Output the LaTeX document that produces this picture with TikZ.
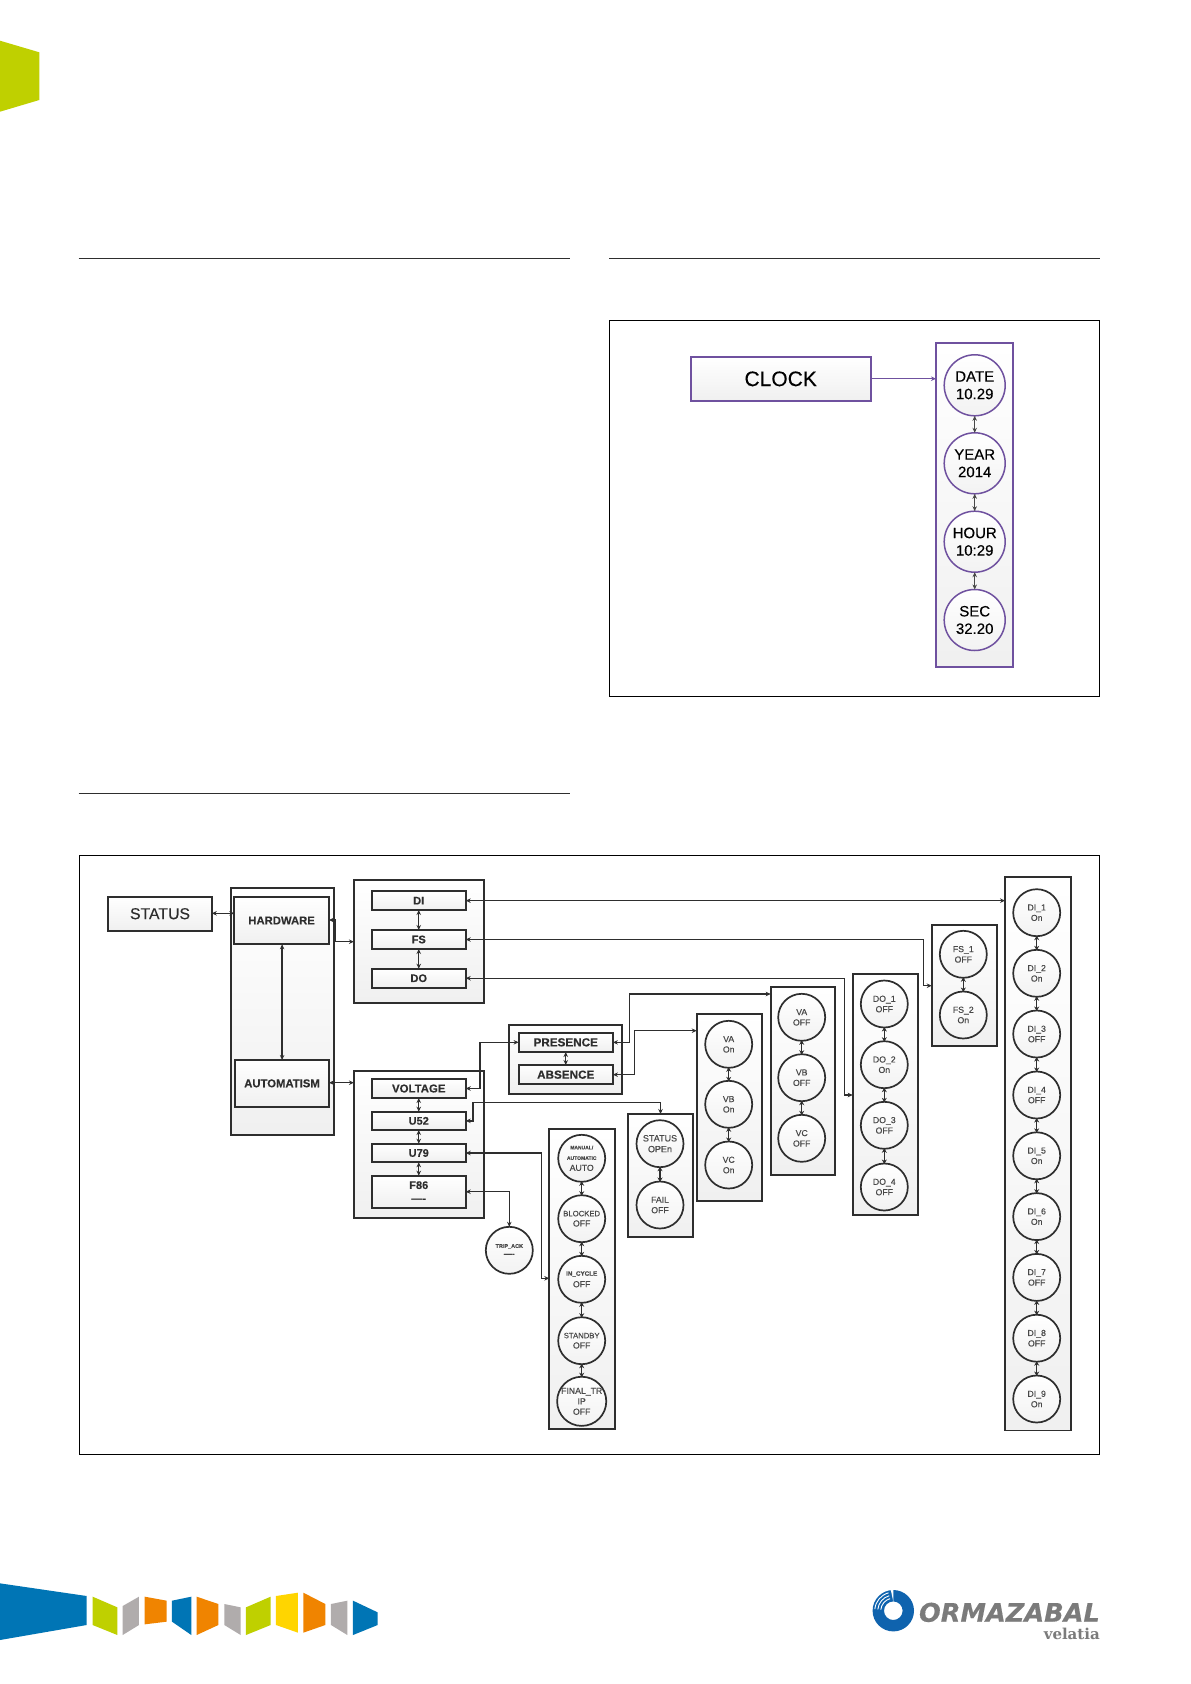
\documentclass[tikz,border=0pt]{standalone}
\usepackage{fontspec}
\setmainfont{Liberation Sans}[FakeBold=0.25]
\newfontfamily\logosans{DejaVu Sans}[FakeBold=0.4]
\newfontfamily\logoserif{DejaVu Serif}
\usetikzlibrary{arrows.meta}
\definecolor{ink}{HTML}{2E2E2E}
\definecolor{soft}{HTML}{484848}
\definecolor{purp}{HTML}{6F519F}
\definecolor{lime}{HTML}{BFD000}
\definecolor{ablue}{HTML}{0075B5}
\definecolor{aorange}{HTML}{F08400}
\definecolor{agray}{HTML}{B0ACAC}
\definecolor{ayellow}{HTML}{FFD500}
\definecolor{logogray}{HTML}{7B7B7B}
\definecolor{rblue}{HTML}{0F63AE}
\newcommand{\fsz}[1]{\fontsize{#1}{\fpeval{#1*1.2}}\selectfont}
\tikzset{
  shaded box/.style={rectangle,draw=ink,line width=1.8pt,top color=white,bottom color=black!6,inner sep=0pt,outer sep=0pt,align=center,text=ink},
  purplebox/.style={shaded box,draw=purp,line width=1.6pt,text=black},
  roundel/.style={circle,draw=ink,line width=1.7pt,top color=white,bottom color=black!5,inner sep=0pt,outer sep=0pt,minimum size=47pt,align=center,text=soft},
  purpleround/.style={roundel,draw=purp,line width=1.5pt,minimum size=61pt,text=black,font=\fsz{15}},
  wire/.style={draw=ink,line width=1.3pt,{Stealth[length=5pt,width=4.5pt]}-{Stealth[length=5pt,width=4.5pt]}},
  link/.style={draw=ink,line width=1.5pt,{Stealth[length=4.5pt,width=5pt]}-{Stealth[length=4.5pt,width=5pt]},shorten >=-.5pt,shorten <=-.5pt},
  rulebar/.style={draw=ink,line width=.9pt},
  framebox/.style={draw=black,line width=.9pt,fill=white},
}
% \mybox[style]{name}{x1}{y1}{x2}{y2}{text}
\newcommand{\mybox}[7][]{%
  \pgfmathsetmacro{\bcx}{(#3+#5)/2}\pgfmathsetmacro{\bcy}{(#4+#6)/2}%
  \pgfmathsetmacro{\bw}{#5-#3}\pgfmathsetmacro{\bh}{#6-#4}%
  \node[shaded box,#1,minimum width=\bw pt,minimum height=\bh pt] (#2) at (\bcx,\bcy) {#7};}
\begin{document}
\begin{tikzpicture}[x=1pt,y=-1pt]
\useasboundingbox (0,0) rectangle (1191,1684);
\fill[white] (0,0) rectangle (1191,1684);
% page furniture
\fill[lime] (0,40.7) -- (39.3,52.3) -- (39.3,100) -- (0,111.7) -- cycle;
\draw[rulebar] (78.5,258) -- (569.5,258);
\draw[rulebar] (609,258) -- (1100,258);
\draw[rulebar] (78.5,793.7) -- (569.5,793.7);
\draw[framebox] (609,320.5) rectangle (1099.5,696.7);
\draw[framebox] (79,855.7) rectangle (1099.5,1454.7);

% CLOCK
\mybox[purplebox,font=\fsz{21}]{clock}{690.7}{357}{870.7}{400.7}{CLOCK}
\mybox[purplebox]{clockgrp}{936}{342.7}{1013}{667}{}
\node[purpleround] (date) at (974.7,385.3) {DATE\\[-.5pt]10.29};
\node[purpleround] (year) at (974.7,463.3) {YEAR\\[-.5pt]2014};
\node[purpleround] (hour) at (974.7,541.7) {HOUR\\[-.5pt]10:29};
\node[purpleround] (sec)  at (974.7,620)   {SEC\\[-.5pt]32.20};
\draw[draw=purp,line width=1.5pt,-{Stealth[length=5pt,width=4.5pt]}] (clock.east |- 0,378.7) -- (clockgrp.west |- 0,378.7);
\foreach \a/\b in {date/year,year/hour,hour/sec}
  \draw[wire,draw=soft,line width=1.1pt] (\a) -- (\b);

% STATUS tree, left part
\mybox[font=\fsz{15.8}]{status}{108.2}{896.7}{211.8}{930.7}{STATUS}
\mybox{hwgrp}{230.7}{887.7}{334.3}{1135}{}
\mybox[font=\fsz{11.3}\bfseries]{hardware}{234.3}{896.7}{328.9}{944.3}{HARDWARE}
\mybox[font=\fsz{11.3}\bfseries]{autom}{235}{1060}{329}{1106.7}{AUTOMATISM}
\mybox{digrp}{353.9}{880}{483.6}{1003.3}{}
\mybox[font=\fsz{11}\bfseries]{di}{371.8}{891.3}{465.7}{910}{DI}
\mybox[font=\fsz{11}\bfseries]{fs}{371.8}{930}{465.7}{949}{FS}
\mybox[font=\fsz{11}\bfseries]{do}{371.8}{968.7}{465.7}{987.7}{DO}
\mybox{volgrp}{353.9}{1070.7}{483.6}{1217.7}{}
\mybox[font=\fsz{11.4}\bfseries]{voltage}{371.8}{1079}{465.7}{1098}{VOLTAGE}
\mybox[font=\fsz{11}\bfseries]{u52}{371.8}{1111.7}{465.7}{1130}{U52}
\mybox[font=\fsz{11}\bfseries]{u79}{371.8}{1143.7}{465.7}{1162.3}{U79}
\mybox[font=\fsz{11}\bfseries]{f86}{371.8}{1175.7}{465.7}{1207.7}{F86\\----}
\mybox{presgrp}{509.3}{1025.3}{621.8}{1094.3}{}
\mybox[font=\fsz{11.7}\bfseries]{presence}{518.6}{1032.7}{612.9}{1052}{PRESENCE}
\mybox[font=\fsz{11.7}\bfseries]{absence}{518.6}{1065}{612.9}{1084.3}{ABSENCE}
\node[roundel,font=\fsz{5.5}\bfseries] (trip) at (509.3,1250.3) {TRIP\_ACK\\[2pt]{\fsz{8}----}};

% columns of circles
\mybox{mangrp}{549.3}{1129}{615}{1429}{}
\node[roundel] (man) at (581.7,1158.3) {{\fsz{5}\bfseries MANUAL/}\\[-1.5pt]{\fsz{5}\bfseries AUTOMATIC}\\[-1pt]{\fsz{8.7}AUTO}};
\node[roundel,font=\fsz{7.7}] (blocked) at (581.7,1218.7) {BLOCKED\\[1pt]{\fsz{8.7}OFF}};
\node[roundel] (incyc) at (581.7,1279.3) {{\fsz{6.3}\bfseries IN\_CYCLE}\\[-.5pt]{\fsz{8.7}OFF}};
\node[roundel,font=\fsz{7.7}] (standby) at (581.7,1340.7) {STANDBY\\[1pt]{\fsz{8.7}OFF}};
\node[roundel,font=\fsz{8.7}] (final) at (581.7,1401.3) {FINAL\_TR\\IP\\OFF};
\foreach \a/\b in {man/blocked,blocked/incyc,incyc/standby,standby/final}
  \draw[link] (\a) -- (\b);

\mybox{stgrp}{628.3}{1114}{692.7}{1236.7}{}
\node[roundel,font=\fsz{9}] (stopen) at (660,1143.7) {STATUS\\OPEn};
\node[roundel,font=\fsz{8.7}] (fail) at (660,1205) {FAIL\\OFF};
\draw[link] (stopen) -- (fail);

\mybox{vagrp}{696.7}{1014}{761.7}{1201.3}{}
\node[roundel,font=\fsz{8.7}] (vaon) at (728.7,1044.3) {VA\\On};
\node[roundel,font=\fsz{8.7}] (vbon) at (728.7,1104.3) {VB\\On};
\node[roundel,font=\fsz{8.7}] (vcon) at (728.7,1165) {VC\\On};
\draw[link] (vaon) -- (vbon);
\draw[link] (vbon) -- (vcon);

\mybox{vbgrp}{770.7}{987.3}{835.3}{1174.7}{}
\node[roundel,font=\fsz{8.7}] (vaoff) at (801.7,1017.3) {VA\\OFF};
\node[roundel,font=\fsz{8.7}] (vboff) at (801.7,1077.7) {VB\\OFF};
\node[roundel,font=\fsz{8.7}] (vcoff) at (801.7,1138.3) {VC\\OFF};
\draw[link] (vaoff) -- (vboff);
\draw[link] (vboff) -- (vcoff);

\mybox{dogrp}{852.7}{974.3}{917.7}{1215.3}{}
\node[roundel,font=\fsz{8.7}] (doa) at (884.3,1004) {DO\_1\\OFF};
\node[roundel,font=\fsz{8.7}] (dob) at (884.3,1064.7) {DO\_2\\On};
\node[roundel,font=\fsz{8.7}] (doc) at (884.3,1125.3) {DO\_3\\OFF};
\node[roundel,font=\fsz{8.7}] (dod) at (884.3,1187) {DO\_4\\OFF};
\foreach \a/\b in {doa/dob,dob/doc,doc/dod}
  \draw[link] (\a) -- (\b);

\mybox{fsgrp}{931.7}{925}{996.7}{1046}{}
\node[roundel,font=\fsz{8.7}] (fsa) at (963.3,954.3) {FS\_1\\OFF};
\node[roundel,font=\fsz{8.7}] (fsb) at (963.3,1015) {FS\_2\\On};
\draw[link] (fsa) -- (fsb);

\mybox{dicol}{1005}{877.3}{1070.7}{1430.5}{}
\node[roundel,font=\fsz{8.7}] (dia) at (1036.7,912.7) {DI\_1\\On};
\node[roundel,font=\fsz{8.7}] (dib) at (1036.7,973.3) {DI\_2\\On};
\node[roundel,font=\fsz{8.7}] (dic) at (1036.7,1034) {DI\_3\\OFF};
\node[roundel,font=\fsz{8.7}] (did) at (1036.7,1095) {DI\_4\\OFF};
\node[roundel,font=\fsz{8.7}] (die) at (1036.7,1155.8) {DI\_5\\On};
\node[roundel,font=\fsz{8.7}] (dif) at (1036.7,1216.6) {DI\_6\\On};
\node[roundel,font=\fsz{8.7}] (dig) at (1036.7,1277.4) {DI\_7\\OFF};
\node[roundel,font=\fsz{8.7}] (dih) at (1036.7,1338.2) {DI\_8\\OFF};
\node[roundel,font=\fsz{8.7}] (dii) at (1036.7,1399) {DI\_9\\On};
\foreach \a/\b in {dia/dib,dib/dic,dic/did,did/die,die/dif,dif/dig,dig/dih,dih/dii}
  \draw[link] (\a) -- (\b);

% bend points
\coordinate (hwbend) at (335,941.7);
\coordinate (fsbend) at (923.3,985.7);
\coordinate (dobend) at (844.3,1095);
\coordinate (volbend) at (480,1042.3);
\coordinate (u52bend) at (472.9,1102.3);
\coordinate (u79bend) at (541.4,1278.3);
\coordinate (f86bend) at (509.3,1191.7);
\coordinate (prbend) at (629.3,994);
\coordinate (abbend) at (634.7,1030.7);

% connectors
\draw[wire] (status.east |- 0,913.3) -- (hardware.west |- 0,913.3);
\draw[wire] (hardware.south -| 282.1,0) -- (autom.north -| 282.1,0);
\draw[wire] (hardware.east |- 0,920) -- (hwbend |- 0,920) -- (hwbend) -- (digrp.west |- hwbend);
\draw[wire] (autom.east |- 0,1082.7) -- (volgrp.west |- 0,1082.7);
\draw[wire] (di.south) -- (fs.north);
\draw[wire] (fs.south) -- (do.north);
\draw[wire] (voltage.south) -- (u52.north);
\draw[wire] (u52.south) -- (u79.north);
\draw[wire] (u79.south) -- (f86.north);
\draw[wire] (presence.south) -- (absence.north);
\draw[wire] (di.east) -- (dicol.west |- di.east);
\draw[wire] (fs.east) -| (fsbend) -- (fsgrp.west |- fsbend);
\draw[wire] (do.east) -| (dobend) -- (dogrp.west |- dobend);
\draw[wire] (voltage.east) -| (volbend) -- (presence.west |- volbend);
\draw[wire] (u52.east) -| (u52bend) -| (stgrp.north);
\draw[wire] (u79.east) -| (u79bend) -- (mangrp.west |- u79bend);
\draw[wire] (f86.east |- f86bend) -- (f86bend) -- (trip.north);
\draw[wire] (presence.east) -| (prbend) -- (vbgrp.west |- prbend);
\draw[wire] (absence.east) -| (abbend) -- (vagrp.west |- abbend);

% bottom ribbon
\begin{scope}[shift={(0,1570)},x=.33333pt,y=-.33333pt]
\fill[ablue] (0,40) -- (260,78) -- (260,165) -- (0,210) -- cycle;
\fill[lime] (278,80) -- (352,112) -- (352,195) -- (278,165) -- cycle;
\fill[agray] (368,108) -- (417,80) -- (417,165) -- (368,195) -- cycle;
\fill[aorange] (434,80) -- (500,92) -- (500,155) -- (434,163) -- cycle;
\fill[ablue] (516,92) -- (574,80) -- (574,195) -- (516,155) -- cycle;
\fill[aorange] (590,80) -- (655,102) -- (655,165) -- (590,195) -- cycle;
\fill[agray] (673,102) -- (722,112) -- (722,195) -- (673,165) -- cycle;
\fill[lime] (738,112) -- (812,80) -- (812,165) -- (738,195) -- cycle;
\fill[ayellow] (828,78) -- (894,68) -- (894,188) -- (828,165) -- cycle;
\fill[aorange] (910,68) -- (976,102) -- (976,165) -- (910,188) -- cycle;
\fill[agray] (993,102) -- (1042,92) -- (1042,195) -- (993,165) -- cycle;
\fill[ablue] (1059,92) -- (1133,127) -- (1133,165) -- (1059,195) -- cycle;
\end{scope}

% logo
\fill[rblue,even odd rule] (893.3,1610.7) circle[radius=20.7pt] (893.3,1610.7) circle[radius=9.3pt];
\fill[white] (893.3,1610.7) ++(90:9pt) -- ++(90:12.5pt) arc[start angle=90,end angle=97,radius=21.5pt] -- cycle;
\foreach \r in {12.5,15.5,18.5}
  \draw[white,line width=.9pt] (893.3,1610.7) ++(105:\r pt) arc[start angle=105,end angle=175,radius=\r pt];
\node[anchor=base east,inner sep=0pt,text=logogray,font=\logosans\bfseries\itshape\fsz{25.6}] (ormaz) at (1100,1621.7) {ORMAZABAL};
\node[anchor=base east,inner sep=0pt,text=logogray,font=\logoserif\bfseries\fsz{15}] (velatia) at (1100,1639.5) {velatia};
\end{tikzpicture}
\end{document}
